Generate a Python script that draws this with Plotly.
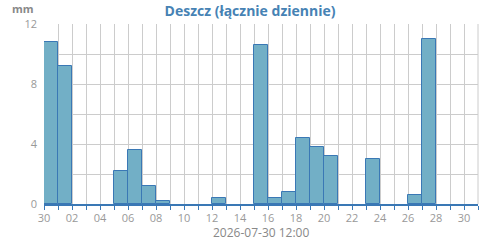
import plotly.graph_objects as go
import pandas as pd

dates = pd.date_range("2026-06-30", "2026-07-30", freq="D")
values = [10.8, 9.2, 0, 0, 0, 2.2, 3.6, 1.2, 0.2, 0, 0, 0, 0.4, 0, 0,
          10.6, 0.4, 0.8, 4.4, 3.8, 3.2, 0, 0, 3.0, 0, 0, 0.6, 11.0, 0, 0, 0]
title = "Deszcz (łącznie dziennie)"
unit = "mm"
subtitle = "2026-07-30 12:00"
y_ticks = [0, 4, 8, 12]

x_centers = [d + pd.Timedelta(hours=12) for d in dates]
y_plot = [v if v > 0 else None for v in values]

fig = go.Figure(go.Bar(
    x=x_centers, y=y_plot, width=86400000,
    marker=dict(color="#72afc6", line=dict(color="#3a78b5", width=1)),
))

font = "Open Sans"
fig.update_layout(
    width=500, height=240,
    margin=dict(l=44, r=22, t=24, b=36, autoexpand=False),
    plot_bgcolor="white", paper_bgcolor="white",
    showlegend=False, bargap=0,
    font=dict(family=font, color="#999", size=11),
    title=dict(text="<b>" + title + "</b>", x=0.5, xanchor="center", y=0.955, yanchor="middle",
               font=dict(family=font, size=14, color="#4682b4")),
    annotations=[
        dict(text="<b>" + unit + "</b>", xref="paper", yref="paper", x=-0.078, y=1.088,
             xanchor="left", yanchor="middle", showarrow=False,
             font=dict(family=font, size=11, color="#888")),
        dict(text=subtitle, xref="paper", yref="paper", x=0.5, y=-0.157,
             xanchor="center", yanchor="middle", showarrow=False, borderpad=0,
             font=dict(family=font, size=12, color="#888")),
    ],
)

fig.update_xaxes(
    type="date", automargin=False,
    range=[dates[0], dates[-1] + pd.Timedelta(days=1)],
    tick0=dates[0], dtick=2 * 86400000, tickformat="%d",
    showgrid=True, gridcolor="#cccccc", gridwidth=1,
    ticks="outside", ticklen=4, tickcolor="#3a78b5", ticklabelstandoff=-1,
    minor=dict(dtick=86400000, tick0=dates[0], showgrid=True, gridcolor="#cccccc",
               ticks="outside", ticklen=4, tickcolor="#3a78b5"),
    showline=True, linecolor="#3a78b5", linewidth=1.5,
    tickfont=dict(size=11, color="#999"),
    zeroline=False,
)
fig.update_yaxes(
    range=[0, 12], tickvals=y_ticks, automargin=False,
    showgrid=True, gridcolor="#cccccc", gridwidth=1,
    minor=dict(dtick=2, showgrid=True, gridcolor="#cccccc"),
    showline=False, zeroline=False,
    tickfont=dict(size=11, color="#999"), ticks="", ticklabelstandoff=6,
)
fig.add_shape(type="line", xref="paper", yref="paper", x0=1, x1=1, y0=0, y1=1,
              line=dict(color="#cccccc", width=1))

fig.write_html("out.html")
